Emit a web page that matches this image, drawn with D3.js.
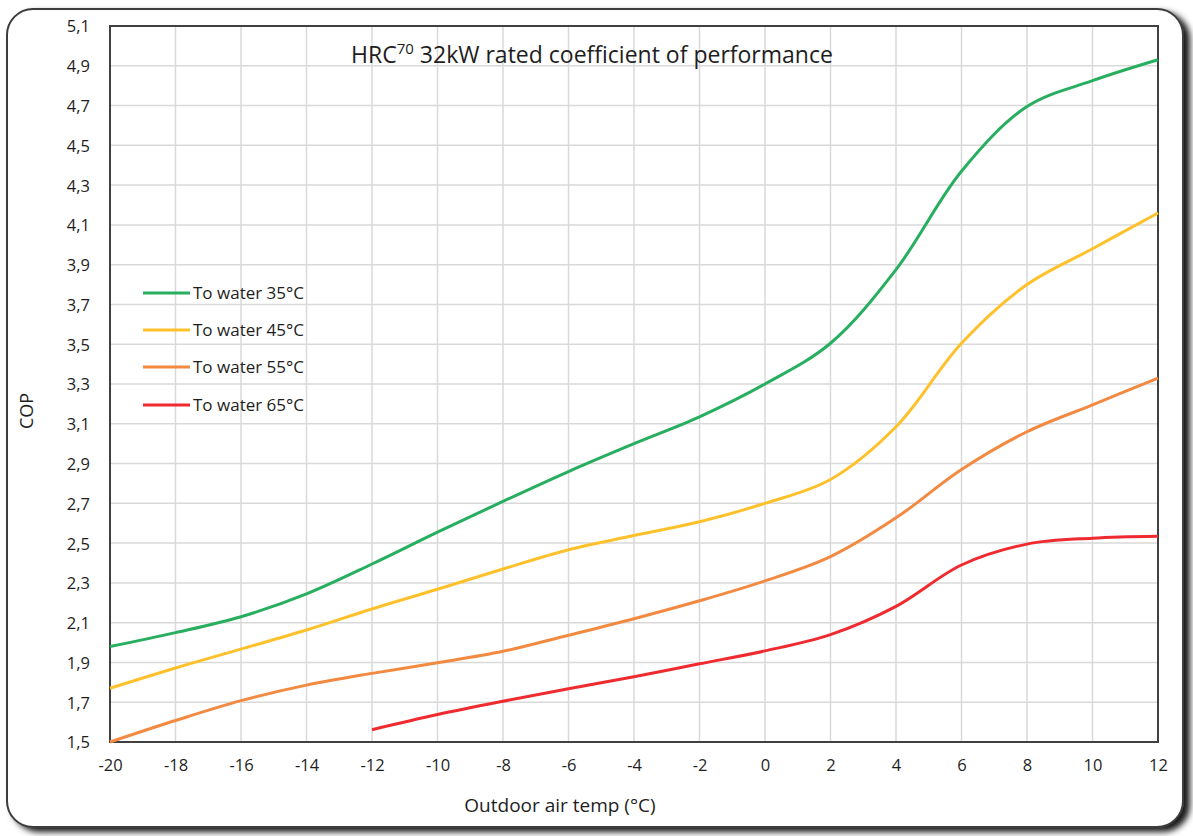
<!DOCTYPE html>
<html><head><meta charset="utf-8">
<script src="https://cdn.jsdelivr.net/npm/d3@7"></script>
<style>body{margin:0;background:#fff;} svg{display:block;}</style>
</head><body>
<script>
const temps = [-20,-18,-16,-14,-12,-10,-8,-6,-4,-2,0,2,4,6,8,10,12];
const water35 = [1.98,2.05,2.13,2.245,2.395,2.555,2.71,2.86,3.00,3.135,3.30,3.505,3.875,4.37,4.695,4.825,4.93];
const water45 = [1.77,1.872,1.967,2.063,2.169,2.268,2.37,2.467,2.538,2.607,2.70,2.82,3.085,3.505,3.80,3.98,4.16];
const water55 = [1.50,1.608,1.708,1.786,1.845,1.898,1.956,2.037,2.12,2.21,2.31,2.432,2.627,2.87,3.06,3.195,3.33];
const water65Temps = [-12,-10,-8,-6,-4,-2,0,2,4,6,8,10,12];
const water65 = [1.562,1.638,1.705,1.768,1.828,1.893,1.958,2.04,2.182,2.39,2.495,2.525,2.535];
const seriesNames = ["To water 35°C","To water 45°C","To water 55°C","To water 65°C"];
const colors = ["#27ae5f","#ffc12b","#f28a41","#ef2b30"];
const xTicks = [-20,-18,-16,-14,-12,-10,-8,-6,-4,-2,0,2,4,6,8,10,12];
const yTicks = [1.5,1.7,1.9,2.1,2.3,2.5,2.7,2.9,3.1,3.3,3.5,3.7,3.9,4.1,4.3,4.5,4.7,4.9,5.1];

const W=1193,H=836;
const svg=d3.select("body").append("svg").attr("width",W).attr("height",H);
const defs=svg.append("defs");
const f=defs.append("filter").attr("id","sh").attr("x","-5%").attr("y","-5%").attr("width","115%").attr("height","115%");
f.append("feDropShadow").attr("dx",6).attr("dy",4).attr("stdDeviation",3).attr("flood-color","#000").attr("flood-opacity",0.9);

svg.append("rect").attr("x",7).attr("y",9).attr("width",1176).attr("height",818)
  .attr("rx",26).attr("ry",26).attr("fill","#fff").attr("stroke","#3c3c3c").attr("stroke-width",2)
  .attr("filter","url(#sh)");

const L=110,R=1158,T=26,B=742;
const x=d3.scaleLinear().domain([-20,12]).range([L,R]);
const y=d3.scaleLinear().domain([1.5,5.1]).range([B,T]);
const font="'Open Sans', 'Noto Sans', sans-serif";
const txt="#1e1e1e";

const g=svg.append("g");
g.selectAll(".vg").data(xTicks).join("line").attr("x1",d=>x(d)).attr("x2",d=>x(d)).attr("y1",T).attr("y2",B)
  .attr("stroke","#d9d9d9").attr("stroke-width",1.5);
g.selectAll(".hg").data(yTicks).join("line").attr("y1",d=>y(d)).attr("y2",d=>y(d)).attr("x1",L).attr("x2",R)
  .attr("stroke","#d9d9d9").attr("stroke-width",1.5);

const fmt=d=>d3.format(".1f")(d).replace(".",",");
const yAxis=d3.axisLeft(y).tickValues(yTicks).tickFormat(fmt).tickSize(0).tickPadding(20);
const ya=svg.append("g").attr("transform",`translate(${L},0)`).call(yAxis);
ya.select(".domain").remove();
ya.selectAll("text").attr("font-family",font).attr("font-size",16.5).attr("fill",txt).attr("dy","0.36em");
const xAxis=d3.axisBottom(x).tickValues(xTicks).tickFormat(d=>String(d)).tickSize(0).tickPadding(17);
const xa=svg.append("g").attr("transform",`translate(0,${B})`).call(xAxis);
xa.select(".domain").remove();
xa.selectAll("text").attr("font-family",font).attr("font-size",16.5).attr("fill",txt);

svg.append("rect").attr("x",L).attr("y",T).attr("width",R-L).attr("height",B-T)
  .attr("fill","none").attr("stroke","#404040").attr("stroke-width",2);

const data=[
  temps.map((t,i)=>[t,water35[i]]),
  temps.map((t,i)=>[t,water45[i]]),
  temps.map((t,i)=>[t,water55[i]]),
  water65Temps.map((t,i)=>[t,water65[i]])
];
const line=d3.line().x(d=>x(d[0])).y(d=>y(d[1])).curve(d3.curveCatmullRom.alpha(0.5));
svg.selectAll(".ln").data(data).join("path").attr("d",line).attr("fill","none")
  .attr("stroke",(d,i)=>colors[i]).attr("stroke-width",3).attr("stroke-linecap","butt");

const legY=[293,330,367,405];
seriesNames.forEach((n,i)=>{
  svg.append("line").attr("x1",143).attr("x2",190).attr("y1",legY[i]).attr("y2",legY[i])
    .attr("stroke",colors[i]).attr("stroke-width",3);
  svg.append("text").attr("x",193).attr("y",legY[i]+6).text(n)
    .attr("font-family",font).attr("font-size",17).attr("fill",txt);
});

const tt=svg.append("text").attr("x",592).attr("y",63).attr("text-anchor","middle")
  .attr("font-family",font).attr("font-size",23).attr("fill",txt);
tt.append("tspan").text("HRC");
tt.append("tspan").text("70").attr("font-size",15).attr("dy",-9);
tt.append("tspan").text(" 32kW rated coefficient of performance").attr("dy",9);

svg.append("text").attr("x",560).attr("y",812).attr("text-anchor","middle").text("Outdoor air temp (°C)")
  .attr("font-family",font).attr("font-size",19).attr("fill",txt);
svg.append("text").attr("transform","translate(33,411) rotate(-90)").attr("text-anchor","middle").text("COP")
  .attr("font-family",font).attr("font-size",18).attr("fill",txt);
</script>
</body></html>
